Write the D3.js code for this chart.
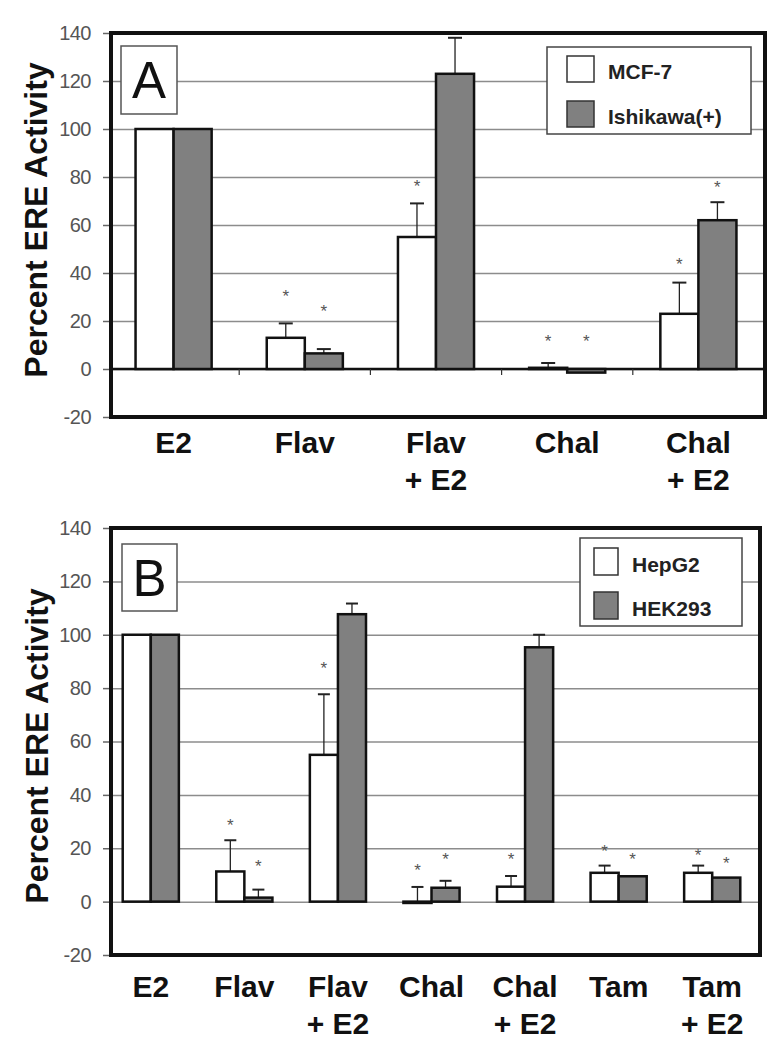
<!DOCTYPE html>
<html>
<head>
<meta charset="utf-8">
<script src="https://cdn.jsdelivr.net/npm/d3@7"></script>
<style>
  body { margin: 0; background: #fff; }
  svg { display: block; font-family: "Liberation Sans", Arial, sans-serif; }
</style>
</head>
<body>
<svg id="chart"></svg>
<script>
// panel A data
let categoriesA = [["E2"], ["Flav"], ["Flav", "+ E2"], ["Chal"], ["Chal", "+ E2"]];
let mcf7 = [100, 13, 55, 0.5, 23];
let mcf7Err = [0, 6, 14, 2, 13];
let ishikawa = [100, 6.5, 123, -1.5, 62];
let ishikawaErr = [0, 1.8, 15, 0.5, 7.5];
let mcf7Stars = [null, 31.7, 77.5, 13, 45];
let ishikawaStars = [null, 25.4, null, 13, 77];

// panel B data
let categoriesB = [["E2"], ["Flav"], ["Flav", "+ E2"], ["Chal"], ["Chal", "+ E2"], ["Tam"], ["Tam", "+ E2"]];
let hepg2 = [100, 11.3, 55, -0.5, 5.6, 10.8, 10.8];
let hepg2Err = [0, 11.7, 22.7, 6, 4, 2.7, 2.7];
let hek293 = [100, 1.5, 107.7, 5.2, 95.3, 9.5, 9];
let hek293Err = [0, 3, 4, 2.6, 4.7, 0, 0];
let hepg2Stars = [null, 30, 88.6, 13, 17, 20, 18.7];
let hek293Stars = [null, 14.6, null, 17, null, 17, 15.7];

let yTicks = [-20, 0, 20, 40, 60, 80, 100, 120, 140];

let width = 780;
let height = 1050;
let svg = d3.select("#chart").attr("width", width).attr("height", height);

let drawPanel = (p) => {
  let g = svg.append("g");
  let names = p.categories.map((c) => c.join(" "));

  let xScale = d3.scaleBand().domain(names).range(p.bandRange)
    .paddingInner(p.padIn).paddingOuter(p.padIn / 2);
  let xSub = d3.scaleBand().domain([0, 1]).range([0, xScale.bandwidth()]);
  let yScale = d3.scaleLinear().domain([-20, 140]).range([p.bottom, p.top]);

  // grid
  g.append("g")
    .attr("transform", "translate(" + p.left + ",0)")
    .call(d3.axisLeft(yScale).tickValues(yTicks).tickSize(-(p.right - p.left)).tickFormat(""))
    .call((a) => a.select(".domain").remove())
    .selectAll("line").attr("stroke", "#8c8c8c").attr("stroke-width", 1.5);

  // y axis ticks + labels
  let yAxis = g.append("g")
    .attr("transform", "translate(" + p.left + ",0)")
    .call(d3.axisLeft(yScale).tickValues(yTicks).tickSize(8).tickPadding(12)
      .tickFormat((d) => String(d)));
  yAxis.select(".domain").remove();
  yAxis.selectAll("line").attr("stroke", "#666").attr("stroke-width", 1.5);
  yAxis.selectAll("text")
    .attr("font-size", 20)
    .attr("fill", "#555")
    .attr("font-family", "Liberation Sans, Arial, sans-serif")
    .attr("letter-spacing", "-0.5");

  // zero line
  if (p.zeroDark) {
    g.append("line")
      .attr("x1", p.left).attr("x2", p.right)
      .attr("y1", yScale(0)).attr("y2", yScale(0))
      .attr("stroke", "#111").attr("stroke-width", 2.5);
    g.selectAll(".cattick")
      .data(names.slice(1))
      .enter()
      .append("line")
      .attr("x1", (d) => xScale(d) - xScale.step() * xScale.paddingInner() / 2)
      .attr("x2", (d) => xScale(d) - xScale.step() * xScale.paddingInner() / 2)
      .attr("y1", yScale(0)).attr("y2", yScale(0) + 6)
      .attr("stroke", "#333").attr("stroke-width", 1.2);
  }

  let series = [
    { vals: p.s1, err: p.e1, stars: p.st1, fill: "#ffffff" },
    { vals: p.s2, err: p.e2, stars: p.st2, fill: "#808080" }
  ];

  series.forEach((s, si) => {
    let rows = names.map((n, i) => ({ name: n, v: s.vals[i], e: s.err[i], star: s.stars[i] }));

    // error bars
    let eb = g.append("g");
    let cx = (d) => xScale(d.name) + xSub(si) + xSub.bandwidth() / 2;
    eb.selectAll("line.v")
      .data(rows.filter((d) => d.e > 0))
      .enter()
      .append("line")
      .attr("x1", cx).attr("x2", cx)
      .attr("y1", (d) => yScale(d.v)).attr("y2", (d) => yScale(d.v + d.e))
      .attr("stroke", "#222").attr("stroke-width", 1.3);
    eb.selectAll("line.cap")
      .data(rows.filter((d) => d.e > 0))
      .enter()
      .append("line")
      .attr("x1", (d) => cx(d) - p.cap).attr("x2", (d) => cx(d) + p.cap)
      .attr("y1", (d) => yScale(d.v + d.e)).attr("y2", (d) => yScale(d.v + d.e))
      .attr("stroke", "#222").attr("stroke-width", 2);

    // bars
    g.append("g")
      .selectAll("rect")
      .data(rows)
      .enter()
      .append("rect")
      .attr("x", (d) => xScale(d.name) + xSub(si))
      .attr("width", xSub.bandwidth())
      .attr("y", (d) => yScale(Math.max(d.v, 0)))
      .attr("height", (d) => Math.abs(yScale(d.v) - yScale(0)))
      .attr("fill", s.fill)
      .attr("stroke", "#111")
      .attr("stroke-width", p.barStroke);

    // significance stars
    g.append("g")
      .selectAll("text")
      .data(rows.filter((d) => d.star !== null))
      .enter()
      .append("text")
      .attr("x", cx)
      .attr("y", (d) => yScale(d.star) + 9)
      .attr("text-anchor", "middle")
      .attr("font-size", 17)
      .attr("fill", "#555")
      .text("*");
  });

  // frame
  g.append("rect")
    .attr("x", p.left).attr("y", p.top)
    .attr("width", p.right - p.left).attr("height", p.bottom - p.top)
    .attr("fill", "none").attr("stroke", "#111").attr("stroke-width", 4);

  // category labels
  let lab = g.append("g")
    .selectAll("text")
    .data(p.categories.map((c, i) => ({ lines: c, name: names[i] })))
    .enter()
    .append("text")
    .attr("text-anchor", "middle")
    .attr("font-size", 30)
    .attr("font-weight", "bold")
    .attr("fill", "#111");
  lab.selectAll("tspan")
    .data((d) => d.lines.map((l) => ({ l: l, name: d.name })))
    .enter()
    .append("tspan")
    .attr("x", (d) => xScale(d.name) + xScale.bandwidth() / 2)
    .attr("y", (d, i) => p.labelY + i * 37)
    .text((d) => d.l);

  // y title
  g.append("text")
    .attr("transform", "translate(" + p.titleX + "," + p.titleY + ") rotate(-90)")
    .attr("text-anchor", "middle")
    .attr("font-size", 32)
    .attr("font-weight", "bold")
    .attr("fill", "#111")
    .text("Percent ERE Activity");

  // panel letter
  g.append("rect")
    .attr("x", p.letterBox[0]).attr("y", p.letterBox[1])
    .attr("width", p.letterBox[2]).attr("height", p.letterBox[3])
    .attr("fill", "#fff").attr("stroke", "#555").attr("stroke-width", 1.5);
  g.append("text")
    .attr("x", p.letterBox[0] + p.letterBox[2] / 2)
    .attr("y", p.letterBox[1] + p.letterBox[3] / 2 + 18)
    .attr("text-anchor", "middle")
    .attr("font-size", 51)
    .attr("fill", "#111")
    .text(p.letter);

  // legend
  let lg = g.append("g");
  lg.append("rect")
    .attr("x", p.legBox[0]).attr("y", p.legBox[1])
    .attr("width", p.legBox[2]).attr("height", p.legBox[3])
    .attr("fill", "#fff").attr("stroke", "#444").attr("stroke-width", 1.5);
  let items = lg.selectAll("g.item")
    .data([{ name: p.names[0], fill: "#fff" }, { name: p.names[1], fill: "#808080" }])
    .enter()
    .append("g")
    .attr("transform", (d, i) => "translate(" + p.legSw[0] + "," + (p.legSw[1] + i * p.legGap) + ")");
  items.append("rect")
    .attr("width", p.legSw[2]).attr("height", p.legSw[3])
    .attr("fill", (d) => d.fill).attr("stroke", "#333").attr("stroke-width", 1.5);
  items.append("text")
    .attr("x", p.legSw[2] + 14)
    .attr("y", p.legSw[3] - 3)
    .attr("font-size", 21)
    .attr("font-weight", "bold")
    .attr("fill", "#222")
    .text((d) => d.name);
};

drawPanel({
  categories: categoriesA,
  s1: mcf7, e1: mcf7Err, st1: mcf7Stars,
  s2: ishikawa, e2: ishikawaErr, st2: ishikawaStars,
  names: ["MCF-7", "Ishikawa(+)"],
  left: 111, right: 765, top: 33, bottom: 417,
  bandRange: [108, 764], padIn: 0.42,
  cap: 7, barStroke: 2.5, zeroDark: true,
  labelY: 453,
  titleX: 47, titleY: 220,
  letter: "A", letterBox: [121, 46, 56, 68],
  legBox: [547, 47, 204, 87], legSw: [567, 56, 27, 26], legGap: 45
});

drawPanel({
  categories: categoriesB,
  s1: hepg2, e1: hepg2Err, st1: hepg2Stars,
  s2: hek293, e2: hek293Err, st2: hek293Stars,
  names: ["HepG2", "HEK293"],
  left: 111, right: 760, top: 528, bottom: 955,
  bandRange: [104, 759], padIn: 0.4,
  cap: 6, barStroke: 2.5, zeroDark: false,
  labelY: 997,
  titleX: 48, titleY: 746,
  letter: "B", letterBox: [122, 544, 55, 67],
  legBox: [580, 538, 162, 88], legSw: [594, 548, 24, 27], legGap: 44
});
</script>
</body>
</html>
